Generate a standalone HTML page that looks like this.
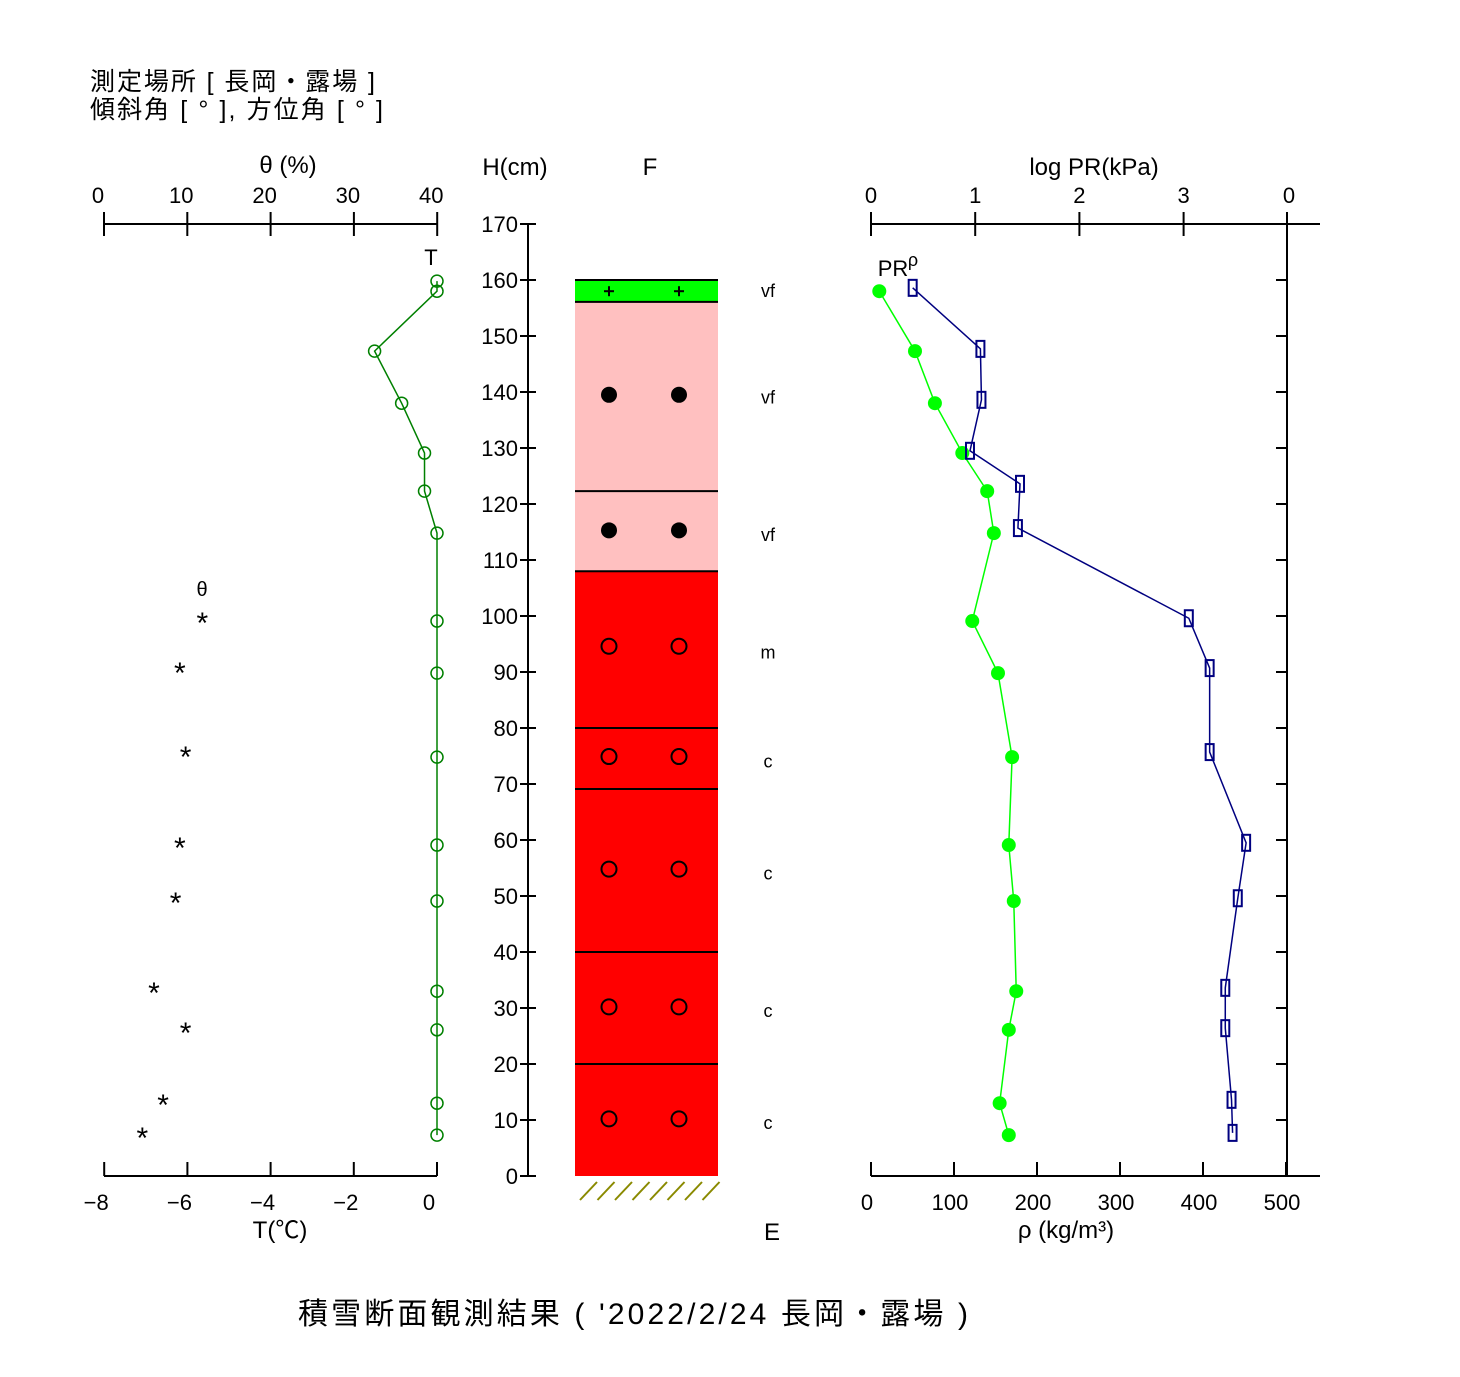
<!DOCTYPE html>
<html><head><meta charset="utf-8"><style>
body{margin:0;background:#fff}
svg text{font-family:"Liberation Sans","Noto Sans CJK JP",sans-serif;fill:#000}
</style></head><body>
<svg id="c" width="1460" height="1372" viewBox="0 0 1460 1372" xmlns="http://www.w3.org/2000/svg">
<rect width="1460" height="1372" fill="#fff"/>
<g id="g"></g>
</svg>
<script>
const tHeights=[159.8,158,147.3,138,129.1,122.3,114.8,99.1,89.8,74.8,59.1,49.1,33,26.1,13,7.3];
const tValues=[0,0,-1.5,-0.85,-0.3,-0.3,0,0,0,0,0,0,0,0,0,0];
const thHeights=[99.6,90.7,75.7,59.5,49.6,33.6,26.4,13.6,7.7];
const thValues=[11.8,9.1,9.8,9.1,8.6,6.0,9.8,7.1,4.6];
const rhoHeights=[158,147.3,138,129.1,122.3,114.8,99.1,89.8,74.8,59.1,49.1,33,26.1,13,7.3];
const rhoValues=[10,53,77,110,140,148,122,153,170,166,172,175,166,155,166];
const prHeights=[158.6,147.7,138.6,129.5,123.6,115.7,99.6,90.7,75.7,59.5,49.6,33.6,26.4,13.6,7.7];
const prValues=[0.40,1.05,1.06,0.95,1.43,1.41,3.05,3.25,3.25,3.6,3.52,3.4,3.4,3.46,3.47];
const layerTops=[160,156.1,122.3,108,80,69.1,40,20];
const layerBottoms=[156.1,122.3,108,80,69.1,40,20,0];
const layerColors=["#00ff00","#ffc0c0","#ffc0c0","#ff0000","#ff0000","#ff0000","#ff0000","#ff0000"];
const layerShapes=["+","dot","dot","o","o","o","o","o"];
const layerGrain=["vf","vf","vf","m","c","c","c","c"];
const symHeights=[158,139.5,115.3,94.6,74.9,54.8,30.2,10.2];
const grainHeights=[158,139,114.5,93.5,74,54,29.5,9.5];

const y=h=>1176-h*5.6;
const xT=t=>437+t*41.6;
const xTh=v=>104+v*8.33;
const xRho=r=>871+r*0.83;
const xPR=p=>871+p*104.2;
const g=document.getElementById('g');
const NS='http://www.w3.org/2000/svg';
function mk(tag,attrs,name,parent){const e=document.createElementNS(NS,tag);for(const k in attrs)e.setAttribute(k,attrs[k]);


(parent||g).appendChild(e);return e;}
function line(x1,y1,x2,y2,name,st,w){return mk('line',{x1,y1,x2,y2,stroke:st||'#000','stroke-width':w||2},name);}
function text(x,yy,s,name,size,anchor){const e=mk('text',{x,y:yy,'font-size':size||22,'text-anchor':anchor||'middle'},name);e.textContent=s;return e;}

// header
text(90,90,'測定場所 [ 長岡・露場 ]','location-label',25,'start').setAttribute('textLength','285');
text(90,118,'傾斜角 [ ° ], 方位角 [ ° ]','angle-label',25,'start').setAttribute('textLength','293');
text(298,1324,"積雪断面観測結果 ( '2022/2/24  長岡・露場 )",'chart-title',30,'start').setAttribute('textLength','670');

// left panel axes
line(104,224,437,224,'theta-axis');
[0,10,20,30,40].forEach(v=>{line(xTh(v),212,xTh(v),236,'theta-tick');text(xTh(v)-6,203,String(v),'theta-tick-label',22);});
text(288,173,'θ (%)','theta-axis-title',24);
line(104,1176,437,1176,'t-axis');
[-8,-6,-4,-2,0].forEach(v=>{line(xT(v),1162,xT(v),1176,'t-tick');text(xT(v)-8,1210,String(v).replace('-','−'),'t-tick-label',22);});
text(280,1238,'T(℃)','t-axis-title',24);
text(431,265,'T','t-series-label',22);
text(202,596,'θ','theta-series-label',20);

// H axis
line(528,224,528,1176,'h-axis');
for(let h=0;h<=170;h+=10){line(520,y(h),536,y(h),'h-tick');text(518,y(h)+8,String(h),'h-tick-label',22,'end');}
text(515,175,'H(cm)','h-axis-title',24);
text(650,175,'F','f-column-title',24);
text(772,1240,'E','e-column-title',24);

// layers
layerTops.forEach((t,i)=>{
 mk('rect',{x:575,y:y(t),width:143,height:y(layerBottoms[i])-y(t),fill:layerColors[i]},'snow-layer');
 line(575,y(t),718,y(t),'layer-boundary','#000',2);
 [609,679].forEach(cx=>{const cy=y(symHeights[i]);
  if(layerShapes[i]==='+'){line(cx-5,cy,cx+5,cy,'grain-symbol','#000',2);line(cx,cy-5,cx,cy+5,'grain-symbol','#000',2);}
  else if(layerShapes[i]==='dot')mk('circle',{cx,cy,r:8,fill:'#000'},'grain-symbol');
  else mk('circle',{cx,cy,r:7.5,fill:'none',stroke:'#000','stroke-width':2},'grain-symbol');});
 text(768,y(grainHeights[i])+6,layerGrain[i],'grain-size-label',18);
});
for(let i=0;i<8;i++){const x0=580+i*17.5;line(x0,1200,x0+17,1182,'ground-hatch','#8a8a00',2);}

// T series
let pts=tHeights.map((h,i)=>xT(tValues[i])+','+y(h)).join(' ');
mk('polyline',{points:pts,fill:'none',stroke:'#008000','stroke-width':1.5},'temperature-line');
tHeights.forEach((h,i)=>mk('circle',{cx:xT(tValues[i]),cy:y(h),r:6,fill:'none',stroke:'#008000','stroke-width':1.5},'temperature-point'));
thHeights.forEach((h,i)=>text(xTh(thValues[i]),y(h)+15,'*','theta-point',30));

// right panel axes
line(871,224,1320,224,'pr-axis');
[0,1,2,3].forEach(v=>{line(xPR(v),212,xPR(v),236,'pr-tick');text(xPR(v),203,String(v),'pr-tick-label',22);});
line(1287,212,1287,236,'pr-tick');text(1289,203,'0','pr-tick-label',22);
text(1094,175,'log PR(kPa)','pr-axis-title',24);
line(871,1176,1320,1176,'rho-axis');
[0,100,200,300,400,500].forEach(v=>{line(xRho(v),1162,xRho(v),1176,'rho-tick');text(xRho(v)-4,1210,String(v),'rho-tick-label',22);});
text(1066,1238,'ρ (kg/m³)','rho-axis-title',24);
line(1287,224,1287,1176,'right-axis');
for(let h=10;h<=160;h+=10)line(1276,y(h),1287,y(h),'right-tick');
text(893,276,'PR','pr-series-label',22);
text(913,266,'ρ','rho-series-label',18);

// rho series
pts=rhoHeights.map((h,i)=>xRho(rhoValues[i])+','+y(h)).join(' ');
mk('polyline',{points:pts,fill:'none',stroke:'#00ff00','stroke-width':1.5},'density-line');
rhoHeights.forEach((h,i)=>mk('circle',{cx:xRho(rhoValues[i]),cy:y(h),r:7,fill:'#00ff00'},'density-point'));
// PR series
pts=prHeights.map((h,i)=>xPR(prValues[i])+','+y(h)).join(' ');
mk('polyline',{points:pts,fill:'none',stroke:'#000080','stroke-width':1.5},'pr-line');
prHeights.forEach((h,i)=>mk('rect',{x:xPR(prValues[i])-4,y:y(h)-8,width:8,height:16,fill:'none',stroke:'#000080','stroke-width':2},'pr-point'));
</script>
</body></html>
